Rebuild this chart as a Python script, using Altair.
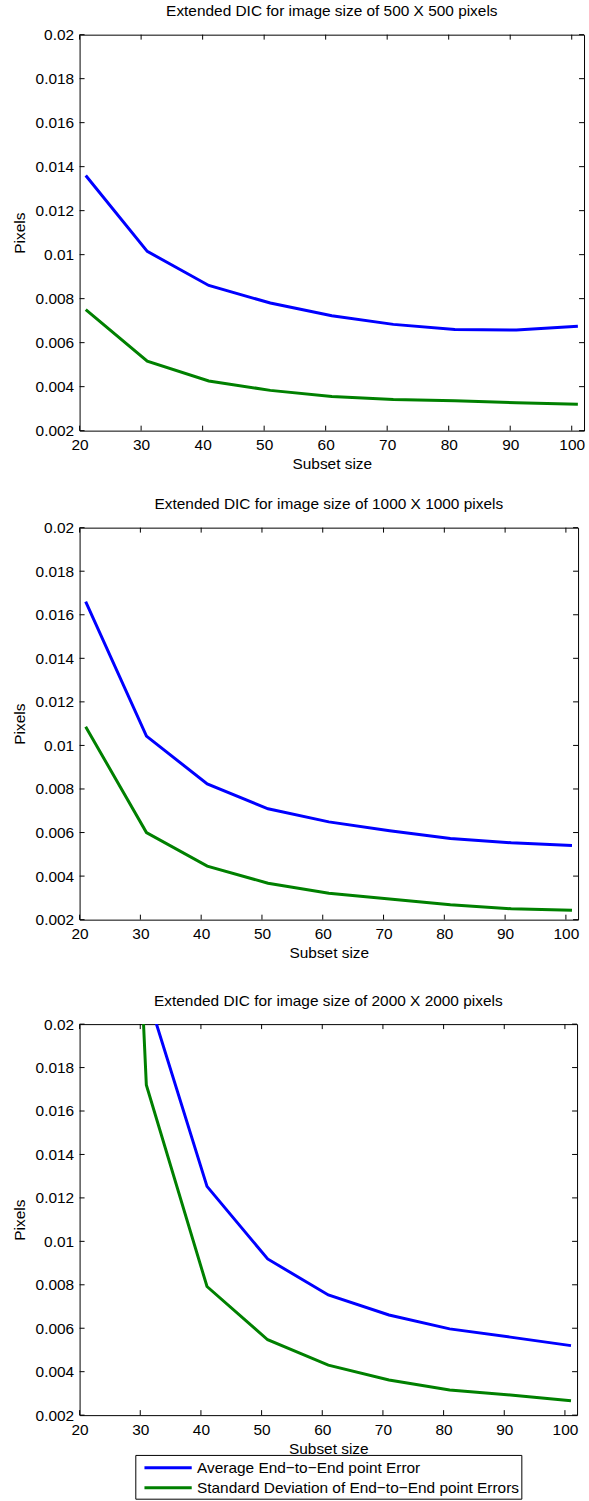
import altair as alt
import pandas as pd

FONT = "Liberation Sans"
FS = 15.5

subset_sizes = [21, 31, 41, 51, 61, 71, 81, 91, 101]

avg_500 = [0.0136, 0.01015, 0.0086, 0.0078, 0.00722, 0.00683, 0.0066, 0.00657, 0.00675]
std_500 = [0.0075, 0.00516, 0.00426, 0.00383, 0.00355, 0.00342, 0.00336, 0.00327, 0.0032]

avg_1000 = [0.0166, 0.01043, 0.00823, 0.00709, 0.00649, 0.00608, 0.00573, 0.00553, 0.0054]
std_1000 = [0.01086, 0.006, 0.00446, 0.00367, 0.00321, 0.00295, 0.00268, 0.0025, 0.00243]

avg_2000 = [0.040, 0.0215, 0.01253, 0.00919, 0.00753, 0.00661, 0.00597, 0.00559, 0.0052]
std_2000 = [0.078, 0.0172, 0.00792, 0.00547, 0.0043, 0.00362, 0.00316, 0.00293, 0.00266]

series_names = [
    "Average End\u2212to\u2212End point Error",
    "Standard Deviation of End\u2212to\u2212End point Errors",
]
series_colors = ["#0000ff", "#008000"]

x_ticks = [20, 30, 40, 50, 60, 70, 80, 90, 100]
y_ticks = [0.002, 0.004, 0.006, 0.008, 0.01, 0.012, 0.014, 0.016, 0.018, 0.02]

titles = [
    "Extended DIC for image size of 500 X 500 pixels",
    "Extended DIC for image size of 1000 X 1000 pixels",
    "Extended DIC for image size of 2000 X 2000 pixels",
]


def panel(avg, std, title, w, h, title_offset, show_legend):
    df = pd.DataFrame({
        "subset": subset_sizes + subset_sizes,
        "value": avg + std,
        "series": [series_names[0]] * len(avg) + [series_names[1]] * len(std),
    })
    xt = pd.DataFrame({"subset": x_ticks})
    yt = pd.DataFrame({"value": y_ticks})

    xs = alt.Scale(domain=[20, 102], nice=False, zero=False)
    ys = alt.Scale(domain=[0.002, 0.02], nice=False, zero=False)
    xaxis = alt.Axis(values=x_ticks, format="d", title="Subset size",
                     labelPadding=7, titlePadding=4, labelFlush=False, labelOverlap=False)
    yaxis = alt.Axis(values=y_ticks, format="~g", title="Pixels",
                     labelPadding=6, titlePadding=8, labelFlush=False, labelOverlap=False)

    if show_legend:
        leg = alt.Legend(
            orient="none", legendX=56, legendY=433, title=None,
            symbolType="M-0.4,0H4.6", symbolSize=361, symbolStrokeWidth=3,
            symbolOffset=0, labelOffset=38, padding=2, rowPadding=0,
            labelFontSize=FS, labelFont=FONT, labelColor="black", labelLimit=0,
            strokeColor="black", fillColor="white",
        )
    else:
        leg = None

    lines = alt.Chart(df).mark_line(clip=True, strokeWidth=3).encode(
        x=alt.X("subset:Q", scale=xs, axis=xaxis),
        y=alt.Y("value:Q", scale=ys, axis=yaxis),
        color=alt.Color("series:N", scale=alt.Scale(domain=series_names, range=series_colors), legend=leg),
    )

    tick_len = 5
    xt_bottom = alt.Chart(xt).mark_rule(color="black", strokeWidth=1).encode(
        x=alt.X("subset:Q", scale=xs, axis=xaxis), y=alt.value(h), y2=alt.value(h - tick_len))
    xt_top = alt.Chart(xt).mark_rule(color="black", strokeWidth=1).encode(
        x=alt.X("subset:Q", scale=xs, axis=xaxis), y=alt.value(0), y2=alt.value(tick_len))
    yt_left = alt.Chart(yt).mark_rule(color="black", strokeWidth=1).encode(
        y=alt.Y("value:Q", scale=ys, axis=yaxis), x=alt.value(0), x2=alt.value(tick_len))
    yt_right = alt.Chart(yt).mark_rule(color="black", strokeWidth=1).encode(
        y=alt.Y("value:Q", scale=ys, axis=yaxis), x=alt.value(w - tick_len), x2=alt.value(w))

    return alt.layer(xt_bottom, xt_top, yt_left, yt_right, lines).properties(
        width=w, height=h,
        title=alt.TitleParams(title, offset=title_offset, fontSize=FS, font=FONT,
                              fontWeight="normal", color="black", anchor="middle"),
    )


p1 = panel(avg_500, std_500, titles[0], 507, 398, 8, False)
p2 = panel(avg_1000, std_1000, titles[1], 501, 394, 8.5, False)
p3 = panel(avg_2000, std_2000, titles[2], 500, 393, 7.5, True)

top = alt.vconcat(p1, p2, spacing=22.5).resolve_scale(color="independent")
chart = alt.vconcat(top, p3, spacing=31.5).resolve_scale(color="independent").properties(
    padding={"left": 11, "top": 0, "right": 3, "bottom": 2},
    background="white",
).configure_view(
    stroke="black", strokeWidth=1
).configure_axis(
    labelFont=FONT, titleFont=FONT, labelFontSize=FS, titleFontSize=FS,
    titleFontWeight="normal", labelColor="black", titleColor="black",
    ticks=False, domain=False, grid=False,
)

chart.save("out.html", embed_options={"renderer": "svg", "actions": False})
